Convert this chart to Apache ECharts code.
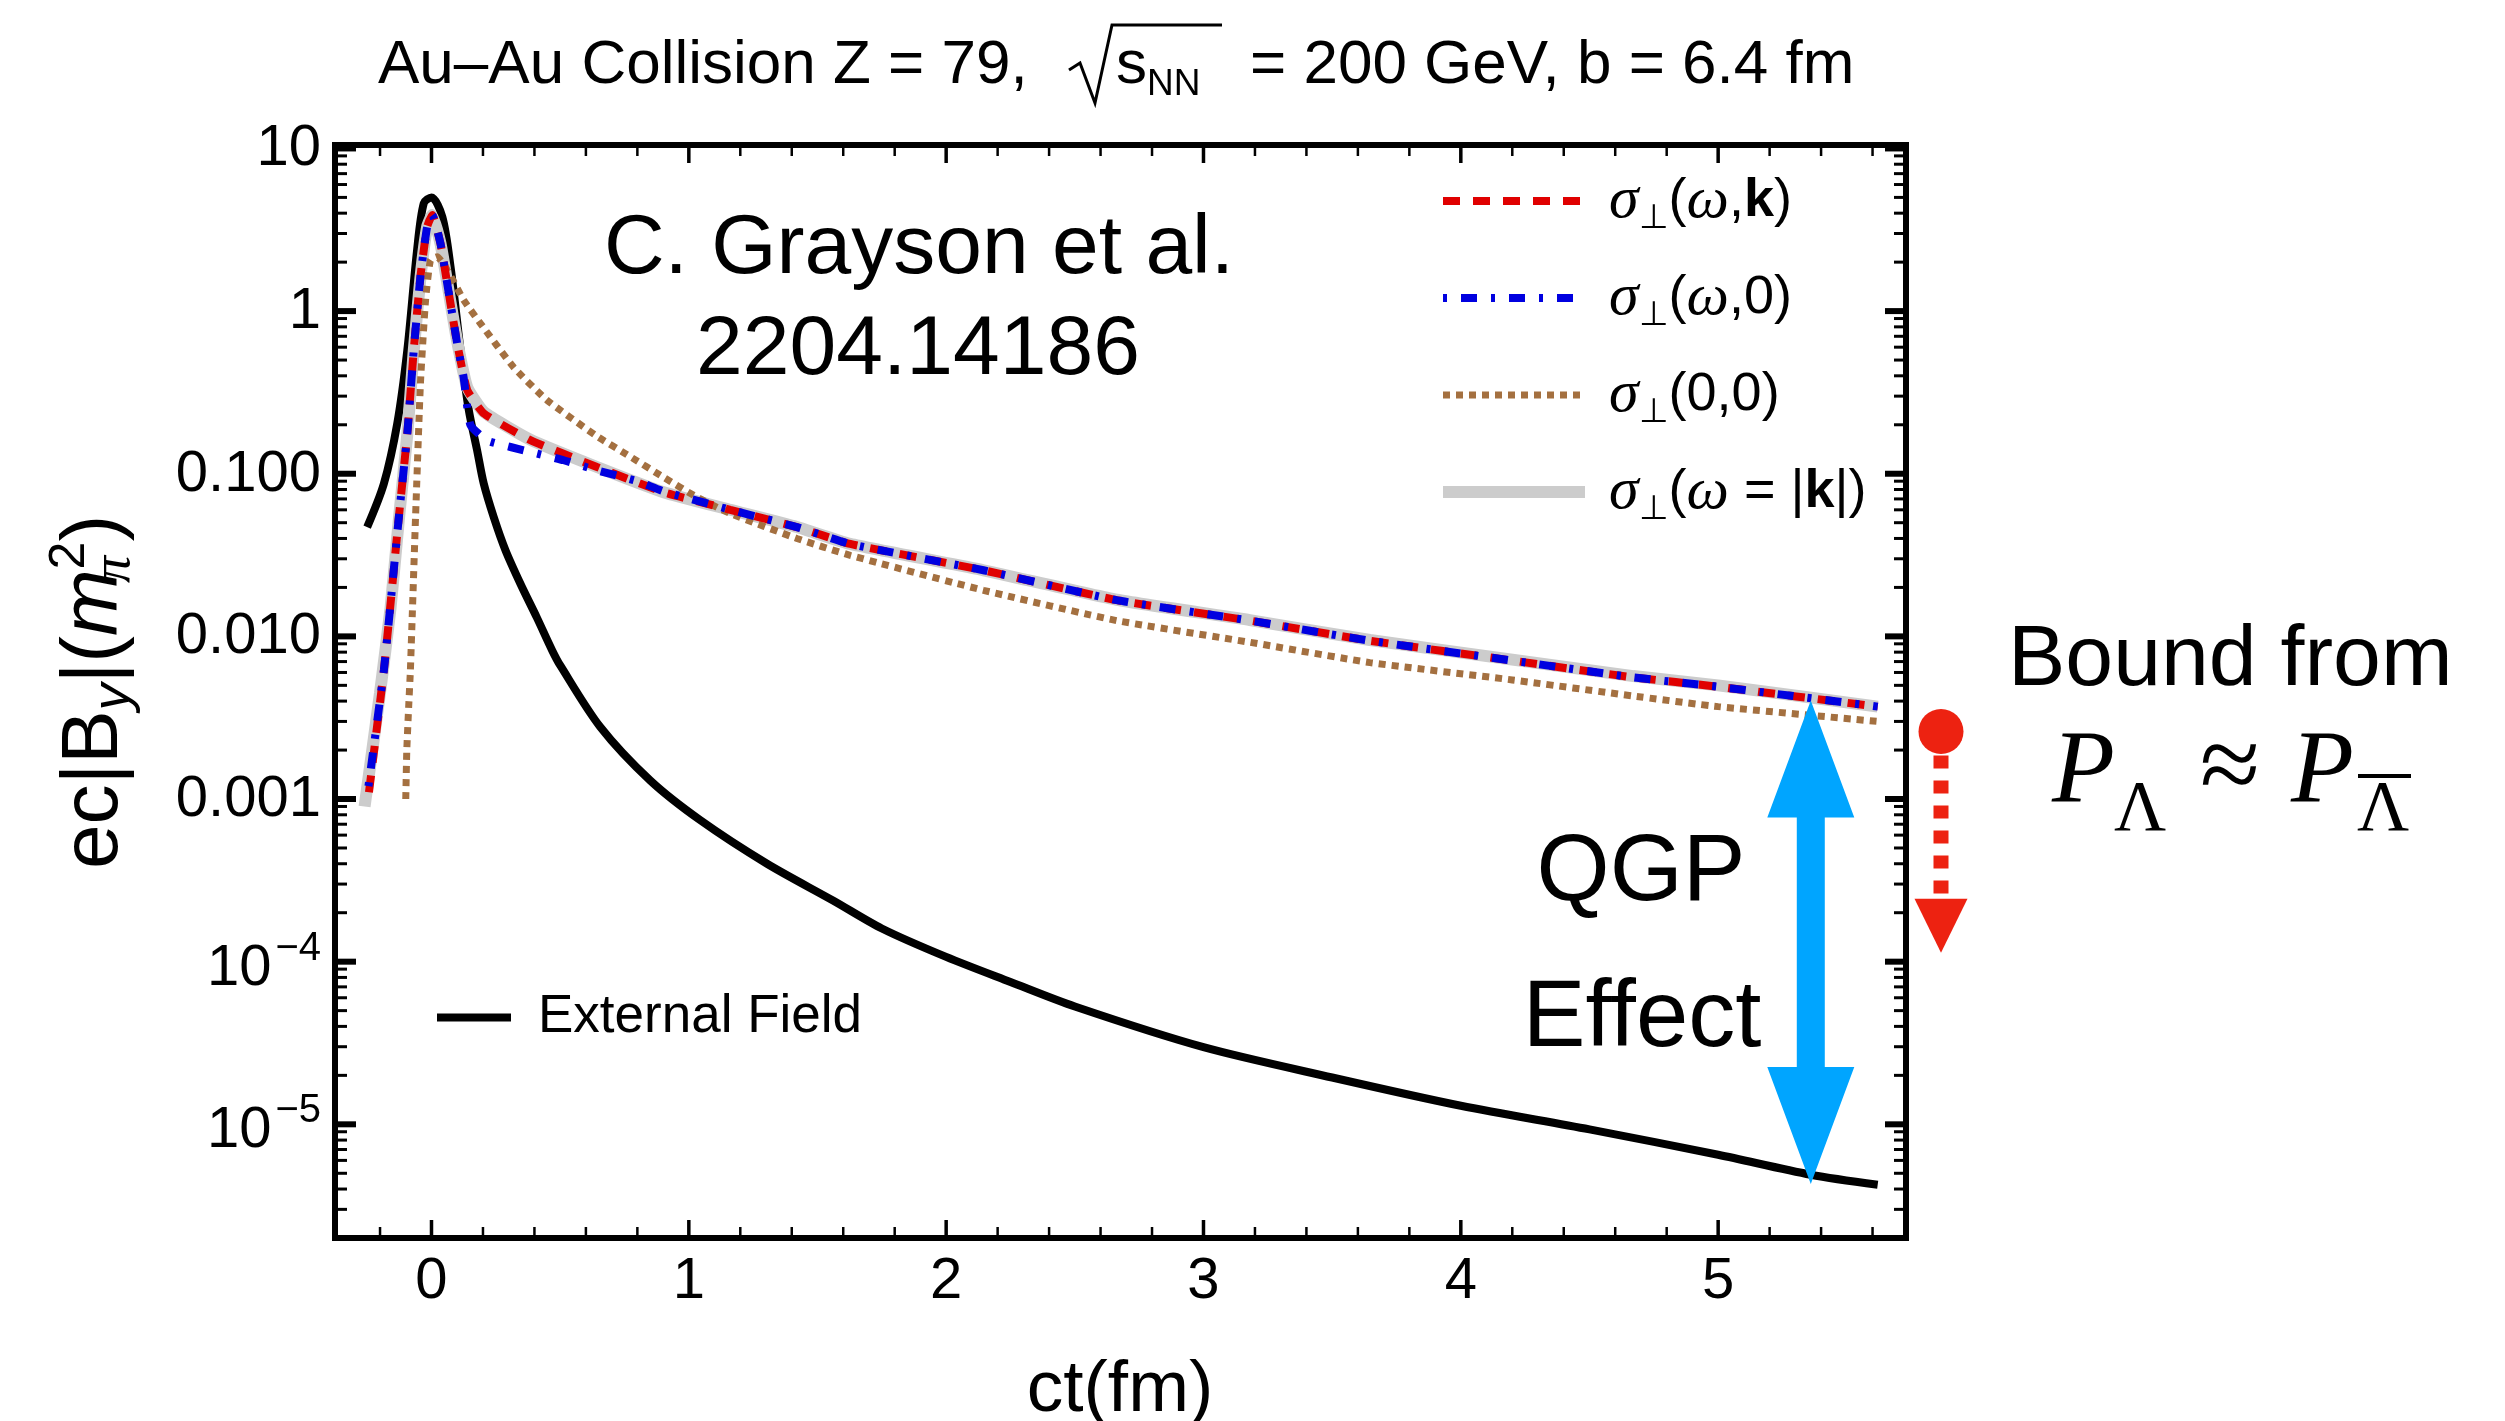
<!DOCTYPE html>
<html><head><meta charset="utf-8">
<script src="https://cdn.jsdelivr.net/npm/echarts@6/dist/echarts.min.js"></script>
<style>html,body{margin:0;padding:0;background:#fff}#c{width:2505px;height:1421px}</style>
</head><body><div id="c"></div>
<script>
const SANS = "'Liberation Sans', Arial, Helvetica, sans-serif";
const SERIF = "'Liberation Serif', 'Times New Roman', serif";

// ---------------- data ----------------
const extX = [-0.25, -0.185, -0.133, -0.094, -0.056, -0.03, 0.0, 0.042, 0.074, 0.113, 0.145, 0.177, 0.203, 0.242, 0.287, 0.346, 0.41, 0.469, 0.501, 0.656, 0.85, 1.045, 1.304, 1.562, 1.75, 2.0, 2.25, 2.5, 3.0, 3.5, 4.0, 4.5, 5.0, 5.36, 5.62];
const extY = [0.047, 0.087, 0.204, 0.575, 2.37, 4.6, 5.0, 3.8, 1.87, 0.575, 0.246, 0.14, 0.087, 0.054, 0.034, 0.021, 0.013, 0.0082, 0.0066, 0.00277, 0.0013, 0.00074, 0.0004, 0.000237, 0.00016, 0.000107, 7.5e-5, 5.3e-5, 2.98e-5, 1.94e-5, 1.3e-5, 9.3e-6, 6.5e-6, 4.9e-6, 4.25e-6];

const sigWkX = [-0.243, -0.185, -0.159, -0.127, -0.094, -0.069, -0.043, -0.017, 0.003, 0.035, 0.061, 0.1, 0.139, 0.203, 0.384, 0.643, 0.902, 1.161, 1.42, 1.627, 2.145, 2.663, 3.18, 3.647, 4.2, 4.67, 5.0, 5.62];
const sigWkY = [0.0011, 0.0062, 0.016, 0.054, 0.177, 0.575, 1.63, 3.3, 3.9, 2.6, 1.48, 0.63, 0.327, 0.235, 0.161, 0.11, 0.077, 0.06, 0.047, 0.037, 0.0255, 0.0167, 0.0125, 0.0094, 0.0071, 0.0056, 0.0049, 0.0037];

const sigW0X = [-0.245, -0.185, -0.159, -0.127, -0.094, -0.069, -0.043, -0.017, 0.003, 0.035, 0.061, 0.1, 0.125, 0.151, 0.216, 0.307, 0.41, 0.514, 0.643, 0.8, 0.902, 1.161, 1.42, 1.627, 2.145, 2.663, 3.18, 3.647, 4.2, 4.67, 5.0, 5.62];
const sigW0Y = [0.0012, 0.0062, 0.016, 0.054, 0.177, 0.575, 1.63, 3.3, 3.9, 2.6, 1.48, 0.63, 0.39, 0.2, 0.16, 0.146, 0.133, 0.121, 0.105, 0.09, 0.078, 0.06, 0.047, 0.037, 0.0255, 0.0167, 0.0125, 0.0094, 0.0071, 0.0056, 0.0049, 0.0037];

const sig00X = [-0.1, -0.096, -0.088, -0.082, -0.062, -0.043, -0.023, -0.004, 0.022, 0.061, 0.125, 0.19, 0.32, 0.449, 0.643, 0.77, 0.902, 1.03, 1.16, 1.42, 1.627, 2.145, 2.663, 3.18, 3.647, 4.2, 4.67, 5.0, 5.62];
const sig00Y = [0.001, 0.002, 0.0039, 0.0062, 0.054, 0.36, 1.17, 2.06, 2.16, 1.79, 1.17, 0.84, 0.45, 0.283, 0.17, 0.128, 0.095, 0.072, 0.057, 0.040, 0.0315, 0.0192, 0.0125, 0.0092, 0.0069, 0.0054, 0.0043, 0.0037, 0.003];

const sigLcX = [-0.26, -0.2, -0.159, -0.127, -0.094, -0.069, -0.043, -0.017, 0.003, 0.035, 0.061, 0.1, 0.139, 0.203, 0.384, 0.643, 0.902, 1.161, 1.42, 1.627, 2.145, 2.663, 3.18, 3.647, 4.2, 4.67, 5.0, 5.62];
const sigLcY = [0.0009, 0.0045, 0.015, 0.052, 0.175, 0.57, 1.6, 3.3, 3.9, 2.6, 1.5, 0.65, 0.34, 0.24, 0.162, 0.11, 0.077, 0.06, 0.047, 0.037, 0.0255, 0.0168, 0.0126, 0.0095, 0.0072, 0.0057, 0.005, 0.0037];

const seriesNames = ['σ⊥(ω,k)', 'σ⊥(ω,0)', 'σ⊥(0,0)', 'σ⊥(ω = |k|)', 'External Field'];

const xMajorTicks = [0, 1, 2, 3, 4, 5];
const xTickLabels = ['0', '1', '2', '3', '4', '5'];
const yMajorTicks = [1e-5, 1e-4, 1e-3, 1e-2, 1e-1, 1, 10];
const yTickLabels = ['{b|10}{sup|−5}', '{b|10}{sup|−4}', '0.001', '0.010', '0.100', '1', '10'];
const X_MIN = -0.375, X_MAX = 5.73, Y_MIN = 2e-6, Y_MAX = 10.5;

// annotation anchors (data coordinates)
const qgpArrow = [5.36, 0.00404, 4.3e-6];   // x, top value, bottom value
const boundMark = [5.866, 0.0026, 1.135e-4]; // x, dot value, arrow tip value

// ---------------- helpers ----------------
const pairs = (xs, ys) => xs.map((x, i) => [x, ys[i]]);

const xMinorTicks = [];
for (let k = -1; k * 0.2 < X_MAX; k++) {
  const v = Math.round(k * 2) / 10;
  if (Math.abs(v - Math.round(v)) > 1e-6) xMinorTicks.push(v);
}
const yMinorTicks = [];
for (let e = -6; e <= 1; e++) {
  for (let m = 2; m <= 9; m++) {
    const v = m * Math.pow(10, e);
    if (v >= Y_MIN && v <= Y_MAX) yMinorTicks.push(v);
  }
}
const tickData = [];
xMajorTicks.forEach((v, i) => tickData.push([v, 1, 0, i]));
xMinorTicks.forEach(v => tickData.push([v, 1, 1, -1]));
yMajorTicks.forEach((v, i) => tickData.push([0, v, 2, i]));
yMinorTicks.forEach(v => tickData.push([0, v, 3, -1]));

function renderTicks(params, api) {
  const kind = api.value(2);
  const cs = params.coordSys;
  const L = cs.x, R = cs.x + cs.width, T = cs.y, B = cs.y + cs.height;
  const ch = [];
  if (kind < 2) {
    const px = api.coord([api.value(0), 1])[0];
    const len = kind === 0 ? 18 : 11, w = kind === 0 ? 3.5 : 2.5;
    ch.push({type: 'line', shape: {x1: px, y1: B, x2: px, y2: B - len}, style: {stroke: '#000', lineWidth: w}});
    ch.push({type: 'line', shape: {x1: px, y1: T, x2: px, y2: T + len}, style: {stroke: '#000', lineWidth: w}});
    if (kind === 0) {
      ch.push({type: 'text', x: px, y: B + 44, style: {text: xTickLabels[api.value(3)], fill: '#000',
        fontFamily: SANS, fontSize: 58, align: 'center', verticalAlign: 'middle'}});
    }
  } else {
    const py = api.coord([0, api.value(1)])[1];
    const len = kind === 2 ? 21 : 12, w = kind === 2 ? 6 : 3;
    ch.push({type: 'line', shape: {x1: L, y1: py, x2: L + len, y2: py}, style: {stroke: '#000', lineWidth: w}});
    ch.push({type: 'line', shape: {x1: R, y1: py, x2: R - len, y2: py}, style: {stroke: '#000', lineWidth: w}});
    if (kind === 2) {
      ch.push({type: 'text', x: L - 14, y: py + 1, style: {text: yTickLabels[api.value(3)], fill: '#000',
        fontFamily: SANS, fontSize: 58, align: 'right', verticalAlign: 'middle',
        rich: {
          b: {fontFamily: SANS, fontSize: 58, lineHeight: 60, verticalAlign: 'middle', padding: [12, 0, 0, 0]},
          sup: {fontFamily: SANS, fontSize: 40, lineHeight: 40, verticalAlign: 'middle', padding: [0, 0, 28, 4]}
        }}});
    }
  }
  return {type: 'group', children: ch};
}

function renderAnnot(params, api) {
  const kind = api.value(3);
  const p1 = api.coord([api.value(0), api.value(1)]);
  const p2 = api.coord([api.value(0), api.value(2)]);
  const x = p1[0], yt = p1[1], yb = p2[1];
  if (kind === 0) {
    const hl = 117, hw = 43.5, sw = 14;
    return {type: 'polygon', shape: {points: [
      [x, yt], [x + hw, yt + hl], [x + sw, yt + hl], [x + sw, yb - hl], [x + hw, yb - hl],
      [x, yb], [x - hw, yb - hl], [x - sw, yb - hl], [x - sw, yt + hl], [x - hw, yt + hl]
    ]}, style: {fill: '#00a5ff', stroke: null}};
  }
  const col = '#ed2211';
  return {type: 'group', children: [
    {type: 'line', shape: {x1: x, y1: yt + 24, x2: x, y2: yb - 52},
      style: {stroke: col, lineWidth: 15, lineDash: [13, 12], lineCap: 'butt'}},
    {type: 'circle', shape: {cx: x, cy: yt, r: 22.5}, style: {fill: col}},
    {type: 'polygon', shape: {points: [[x - 26.5, yb - 54], [x + 26.5, yb - 54], [x, yb]]}, style: {fill: col}}
  ]};
}

const legendText = {
  'σ⊥(ω,k)': '{g| }{s|σ}{sub|⊥}{p|(}{s|ω}{p|,}{k|k}{p|)}',
  'σ⊥(ω,0)': '{g| }{s|σ}{sub|⊥}{p|(}{s|ω}{p|,0)}',
  'σ⊥(0,0)': '{g| }{s|σ}{sub|⊥}{p|(0,0)}',
  'σ⊥(ω = |k|)': '{g| }{s|σ}{sub|⊥}{p|(}{s|ω}{p| = |}{k|k}{p||)}',
  'External Field': '{g2| }{e|External Field}'
};
const legendRich = {
  g: {width: 19, fontSize: 10, lineHeight: 60, verticalAlign: 'middle'},
  g2: {width: 22, fontSize: 10, lineHeight: 60, verticalAlign: 'middle'},
  s: {fontFamily: SERIF, fontStyle: 'italic', fontSize: 60, lineHeight: 60, verticalAlign: 'middle', color: '#000'},
  sub: {fontFamily: SANS, fontSize: 34, lineHeight: 24, padding: [36, 0, 0, 0], verticalAlign: 'middle', color: '#000'},
  p: {fontFamily: SANS, fontSize: 54, lineHeight: 60, verticalAlign: 'middle', color: '#000'},
  k: {fontFamily: SANS, fontWeight: 'bold', fontSize: 54, lineHeight: 60, verticalAlign: 'middle', color: '#000'},
  e: {fontFamily: SANS, fontSize: 53, lineHeight: 60, verticalAlign: 'middle', color: '#000'}
};

const styles = {
  'External Field': {color: '#000000', width: 8, type: 'solid'},
  'σ⊥(ω = |k|)': {color: '#cccccc', width: 12, type: 'solid'},
  'σ⊥(0,0)': {color: '#a47040', width: 7, type: [7, 6]},
  'σ⊥(ω,k)': {color: '#e00000', width: 8, type: [17, 13]},
  'σ⊥(ω,0)': {color: '#0000e0', width: 8, type: [4, 14, 16, 14]}
};
function lineSeries(name, data, smooth) {
  const s = styles[name];
  return {name, type: 'line', data, symbol: 'none', smooth,
    lineStyle: {color: s.color, width: s.width, type: s.type, cap: 'butt'},
    itemStyle: {color: s.color}, emphasis: {disabled: true}};
}
const hiddenSymbol = {opacity: 0, color: 'rgba(0,0,0,0)', borderColor: 'rgba(0,0,0,0)', borderWidth: 0};

const chart = echarts.init(document.getElementById('c'), null, {renderer: 'canvas'});
chart.setOption({
  animation: false,
  backgroundColor: '#fff',
  grid: {left: 335, right: 599, top: 145, bottom: 183, show: true, borderColor: '#000', borderWidth: 6, backgroundColor: 'transparent'},
  xAxis: {type: 'value', min: X_MIN, max: X_MAX, axisLine: {show: false}, axisTick: {show: false}, axisLabel: {show: false}, splitLine: {show: false}},
  yAxis: {type: 'log', logBase: 10, min: Y_MIN, max: Y_MAX, axisLine: {show: false}, axisTick: {show: false}, axisLabel: {show: false}, splitLine: {show: false}},
  legend: [
    {orient: 'vertical', left: 1437, top: 166, padding: 0, itemWidth: 142, itemHeight: 14, itemGap: 27, selectedMode: false,
      data: seriesNames.slice(0, 4).map(n => ({name: n, itemStyle: hiddenSymbol,
        lineStyle: {width: styles[n].width, type: styles[n].type, color: styles[n].color}})),
      formatter: n => legendText[n], textStyle: {color: '#000', rich: legendRich}},
    {orient: 'vertical', left: 433, top: 991, padding: 0, itemWidth: 74, itemHeight: 14, selectedMode: false,
      data: [{name: 'External Field', itemStyle: hiddenSymbol, lineStyle: {width: 8, color: '#000'}}],
      formatter: n => legendText[n], textStyle: {color: '#000', rich: legendRich}}
  ],
  series: [
    lineSeries('External Field', pairs(extX, extY), 0.3),
    lineSeries('σ⊥(ω = |k|)', pairs(sigLcX, sigLcY), 0.15),
    lineSeries('σ⊥(0,0)', pairs(sig00X, sig00Y), 0.15),
    lineSeries('σ⊥(ω,k)', pairs(sigWkX, sigWkY), 0.15),
    lineSeries('σ⊥(ω,0)', pairs(sigW0X, sigW0Y), 0.15),
    {type: 'custom', name: 'ticks', data: tickData, dimensions: ['x', 'y', 'kind', 'li'], encode: {x: 0, y: 1},
      renderItem: renderTicks, clip: false, z: 5, silent: true},
    {type: 'custom', name: 'annotations', data: [[qgpArrow[0], qgpArrow[1], qgpArrow[2], 0], [boundMark[0], boundMark[1], boundMark[2], 1]],
      dimensions: ['x', 'y', 'y2', 'kind'], encode: {x: 0, y: 1}, renderItem: renderAnnot, clip: false, z: 6, silent: true}
  ],
  graphic: [
    {type: 'text', x: 378, y: 66, style: {text: 'Au–Au Collision Z = 79,', fill: '#000', fontFamily: SANS, fontSize: 62, align: 'left', verticalAlign: 'middle'}},
    {type: 'polyline', shape: {points: [[1069, 70], [1080, 63], [1095, 103], [1112, 25], [1222, 25]]}, style: {stroke: '#000', lineWidth: 3, fill: null}},
    {type: 'text', x: 1116, y: 66, style: {text: 's', fill: '#000', fontFamily: SANS, fontSize: 62, align: 'left', verticalAlign: 'middle'}},
    {type: 'text', x: 1147, y: 85, style: {text: 'NN', fill: '#000', fontFamily: SANS, fontSize: 37, align: 'left', verticalAlign: 'middle'}},
    {type: 'text', x: 1250, y: 66, style: {text: '= 200 GeV, b = 6.4 fm', fill: '#000', fontFamily: SANS, fontSize: 62, align: 'left', verticalAlign: 'middle'}},
    {type: 'text', x: 95, y: 692, rotation: Math.PI / 2, style: {
      text: '{n|ec|B}{sy|y}{n||(}{m|m}{sp|π}{su|2}{n|)}', align: 'center', verticalAlign: 'middle',
      rich: {
        n: {fontFamily: SANS, fontSize: 80, lineHeight: 86, verticalAlign: 'middle', color: '#000'},
        m: {fontFamily: SANS, fontStyle: 'italic', fontSize: 80, lineHeight: 86, verticalAlign: 'middle', color: '#000'},
        sy: {fontFamily: SANS, fontStyle: 'italic', fontSize: 54, lineHeight: 30, padding: [38, 0, 0, 0], verticalAlign: 'middle', color: '#000'},
        sp: {fontFamily: SERIF, fontStyle: 'italic', fontSize: 54, lineHeight: 30, padding: [40, 0, 0, 0], width: 0, verticalAlign: 'middle', color: '#000'},
        su: {fontFamily: SANS, fontSize: 50, lineHeight: 30, padding: [0, 0, 50, 0], verticalAlign: 'middle', color: '#000'}
      }}},
    {type: 'text', x: 1120, y: 1391, style: {text: 'ct(fm)', fill: '#000', fontFamily: SANS, fontSize: 73, align: 'center', verticalAlign: 'middle'}},
    {type: 'text', x: 919, y: 250, style: {text: 'C. Grayson et al.', fill: '#000', fontFamily: SANS, fontSize: 84, align: 'center', verticalAlign: 'middle'}},
    {type: 'text', x: 918, y: 351, style: {text: '2204.14186', fill: '#000', fontFamily: SANS, fontSize: 84, align: 'center', verticalAlign: 'middle'}},
    {type: 'text', x: 1641, y: 874, style: {text: 'QGP', fill: '#000', fontFamily: SANS, fontSize: 94, align: 'center', verticalAlign: 'middle'}},
    {type: 'text', x: 1642, y: 1020, style: {text: 'Effect', fill: '#000', fontFamily: SANS, fontSize: 94, align: 'center', verticalAlign: 'middle'}},
    {type: 'text', x: 2008, y: 661, style: {text: 'Bound from', fill: '#000', fontFamily: SANS, fontSize: 86, align: 'left', verticalAlign: 'middle'}},
    {type: 'text', x: 2052, y: 775, style: {text: 'P', fill: '#000', fontFamily: SERIF, fontStyle: 'italic', fontSize: 103, align: 'left', verticalAlign: 'middle'}},
    {type: 'text', x: 2114, y: 811, style: {text: 'Λ', fill: '#000', fontFamily: SERIF, fontSize: 72, align: 'left', verticalAlign: 'middle'}},
    {type: 'text', x: 2230, y: 772, style: {text: '≈', fill: '#000', fontFamily: SERIF, fontSize: 110, align: 'center', verticalAlign: 'middle'}},
    {type: 'text', x: 2291, y: 775, style: {text: 'P', fill: '#000', fontFamily: SERIF, fontStyle: 'italic', fontSize: 103, align: 'left', verticalAlign: 'middle'}},
    {type: 'text', x: 2357, y: 811, style: {text: 'Λ', fill: '#000', fontFamily: SERIF, fontSize: 72, align: 'left', verticalAlign: 'middle'}},
    {type: 'line', shape: {x1: 2358, y1: 776, x2: 2411, y2: 776}, style: {stroke: '#000', lineWidth: 4}}
  ]
});
</script></body></html>
